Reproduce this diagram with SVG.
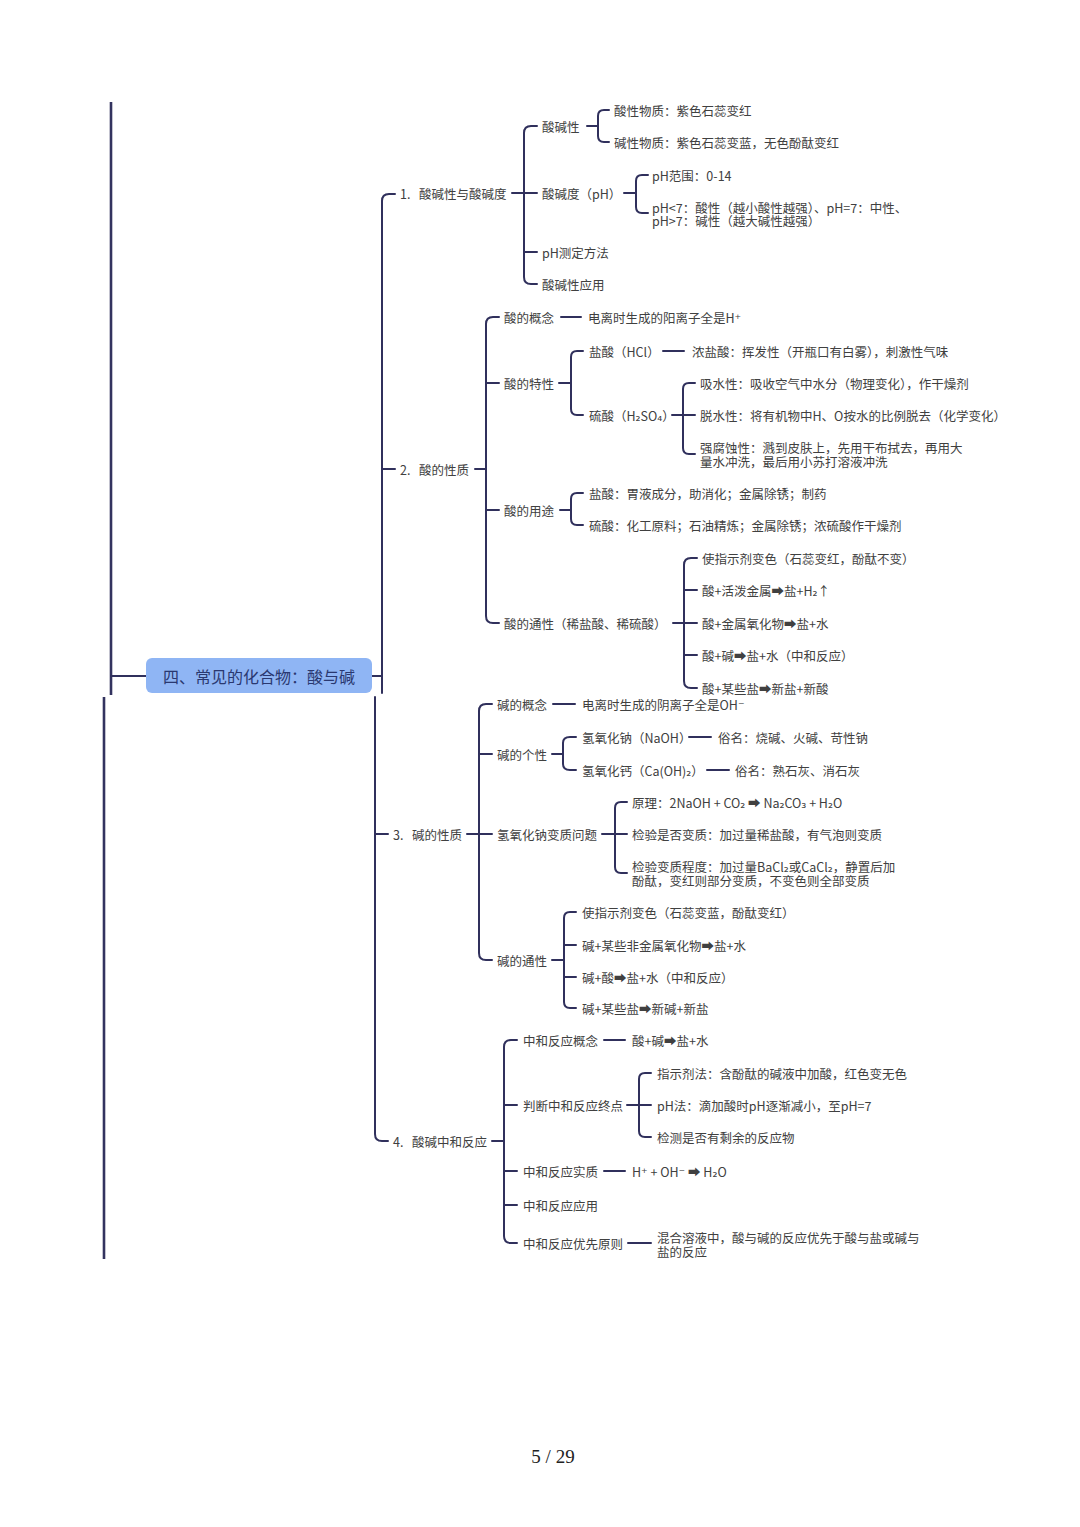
<svg xmlns="http://www.w3.org/2000/svg" width="1080" height="1527" viewBox="0 0 1080 1527">
<style>
.t{font-family:"Noto Sans CJK SC","DejaVu Sans",sans-serif;font-size:12.5px;fill:#404040;dominant-baseline:central}
.c{fill:none;stroke:#30305c;stroke-width:2;stroke-linecap:round;stroke-linejoin:round}
.trunk{fill:none;stroke:#33335f;stroke-width:2.6}
.rootbox{fill:#8fb5f4}
.rt{font-family:"Noto Sans CJK SC",sans-serif;font-size:16px;fill:#2a3870;dominant-baseline:central}
.pg{font-family:"Liberation Serif",serif;font-size:19px;fill:#222}
</style>
<rect width="1080" height="1527" fill="#ffffff"/>

<g id="connectors">
<path class="trunk" d="M111,102 L111,695"/>
<path class="trunk" d="M104,697 L104,1259"/>
<path class="c" d="M111,676 L146,676"/>
<path class="c" d="M372,676 L382,676"/>
<path class="c" d="M395,194 L389,194 Q382,194 382,201 L382,693"/>
<path class="c" d="M382,469 L395,469"/>
<path class="c" d="M375,697 L375,1134 Q375,1141 382,1141 L388,1141"/>
<path class="c" d="M375,834 L388,834"/>
<path class="c" d="M537,126 L531,126 Q524,126 524,133 L524,277 Q524,284 531,284 L537,284"/>
<path class="c" d="M512,193 L537,193 M524,252 L537,252"/>
<path class="c" d="M609,110 L604,110 Q598,110 598,116 L598,136 Q598,142 604,142 L609,142 M587,126 L598,126"/>
<path class="c" d="M648,175 L642,175 Q636,175 636,181 L636,207 Q636,213 642,213 L648,213 M624,193 L636,193"/>
<path class="c" d="M499,317 L493,317 Q486,317 486,324 L486,616 Q486,623 493,623 L499,623"/>
<path class="c" d="M475,469 L486,469 M486,383 L499,383 M486,510 L499,510"/>
<path class="c" d="M561,317 L581,317"/>
<path class="c" d="M583,351 L577,351 Q571,351 571,357 L571,409 Q571,415 577,415 L583,415 M559,383 L571,383"/>
<path class="c" d="M663,351 L684,351"/>
<path class="c" d="M695,383 L689,383 Q683,383 683,389 L683,448 Q683,454 689,454 L695,454 M672,415 L695,415"/>
<path class="c" d="M583,493 L577,493 Q571,493 571,499 L571,519 Q571,525 577,525 L583,525 M560,510 L571,510"/>
<path class="c" d="M697,558 L691,558 Q684,558 684,565 L684,681 Q684,688 691,688 L697,688 M673,623 L697,623 M684,590 L697,590 M684,655 L697,655"/>
<path class="c" d="M492,704 L486,704 Q479,704 479,711 L479,953 Q479,960 486,960 L492,960 M467,834 L492,834 M479,754 L492,754"/>
<path class="c" d="M553,704 L575,704"/>
<path class="c" d="M576,737 L570,737 Q563,737 563,743 L563,764 Q563,770 570,770 L576,770 M552,754 L563,754"/>
<path class="c" d="M689,737 L711,737 M707,770 L729,770"/>
<path class="c" d="M627,802 L621,802 Q615,802 615,808 L615,867 Q615,873 621,873 L627,873 M602,834 L627,834"/>
<path class="c" d="M576,912 L570,912 Q564,912 564,918 L564,1002 Q564,1008 570,1008 L576,1008 M552,960 L564,960 M564,945 L576,945 M564,977 L576,977"/>
<path class="c" d="M517,1040 L511,1040 Q504,1040 504,1047 L504,1236 Q504,1243 511,1243 L517,1243 M492,1141 L504,1141 M504,1105 L517,1105 M504,1171 L517,1171 M504,1205 L517,1205"/>
<path class="c" d="M604,1040 L625,1040"/>
<path class="c" d="M651,1073 L645,1073 Q639,1073 639,1079 L639,1131 Q639,1137 645,1137 L651,1137 M627,1105 L651,1105"/>
<path class="c" d="M604,1171 L625,1171"/>
<path class="c" d="M628,1243 L651,1243"/>
</g>

<g id="root">
<rect class="rootbox" x="146" y="658" width="226" height="35" rx="6"/>
<text class="rt" x="259" y="676" text-anchor="middle">四、常见的化合物：酸与碱</text>
</g>

<g id="n1">
<text class="t" x="400" y="193">1.<tspan x="419">酸碱性与酸碱度</tspan></text>
</g>
<g id="n1-1"><text class="t" x="542" y="126">酸碱性</text></g>
<g id="n1-1-1"><text class="t" x="614" y="110">酸性物质：紫色石蕊变红</text></g>
<g id="n1-1-2"><text class="t" x="614" y="142">碱性物质：紫色石蕊变蓝，无色酚酞变红</text></g>
<g id="n1-2"><text class="t" x="542" y="193">酸碱度（pH）</text></g>
<g id="n1-2-1"><text class="t" x="652" y="175">pH范围：0-14</text></g>
<g id="n1-2-2"><text class="t" x="652" y="207">pH&lt;7：酸性（越小酸性越强）、pH=7：中性、<tspan x="652" dy="13">pH&gt;7：碱性（越大碱性越强）</tspan></text></g>
<g id="n1-3"><text class="t" x="542" y="252">pH测定方法</text></g>
<g id="n1-4"><text class="t" x="542" y="284">酸碱性应用</text></g>

<g id="n2">
<text class="t" x="400" y="469">2.<tspan x="419">酸的性质</tspan></text>
</g>
<g id="n2-1"><text class="t" x="504" y="317">酸的概念</text></g>
<g id="n2-1-1"><text class="t" x="588" y="317">电离时生成的阳离子全是H⁺</text></g>
<g id="n2-2"><text class="t" x="504" y="383">酸的特性</text></g>
<g id="n2-2-1"><text class="t" x="589" y="351">盐酸（HCl）</text></g>
<g id="n2-2-1-1"><text class="t" x="692" y="351">浓盐酸：挥发性（开瓶口有白雾），刺激性气味</text></g>
<g id="n2-2-2"><text class="t" x="589" y="415">硫酸（H₂SO₄）</text></g>
<g id="n2-2-2-1"><text class="t" x="700" y="383">吸水性：吸收空气中水分（物理变化），作干燥剂</text></g>
<g id="n2-2-2-2"><text class="t" x="700" y="415">脱水性：将有机物中H、O按水的比例脱去（化学变化）</text></g>
<g id="n2-2-2-3"><text class="t" x="700" y="447">强腐蚀性：溅到皮肤上，先用干布拭去，再用大<tspan x="700" dy="14">量水冲洗，最后用小苏打溶液冲洗</tspan></text></g>
<g id="n2-3"><text class="t" x="504" y="510">酸的用途</text></g>
<g id="n2-3-1"><text class="t" x="589" y="493">盐酸：胃液成分，助消化；金属除锈；制药</text></g>
<g id="n2-3-2"><text class="t" x="589" y="525">硫酸：化工原料；石油精炼；金属除锈；浓硫酸作干燥剂</text></g>
<g id="n2-4"><text class="t" x="504" y="623">酸的通性（稀盐酸、稀硫酸）</text></g>
<g id="n2-4-1"><text class="t" x="702" y="558">使指示剂变色（石蕊变红，酚酞不变）</text></g>
<g id="n2-4-2"><text class="t" x="702" y="590">酸+活泼金属➡盐+H₂↑</text></g>
<g id="n2-4-3"><text class="t" x="702" y="623">酸+金属氧化物➡盐+水</text></g>
<g id="n2-4-4"><text class="t" x="702" y="655">酸+碱➡盐+水（中和反应）</text></g>
<g id="n2-4-5"><text class="t" x="702" y="688">酸+某些盐➡新盐+新酸</text></g>

<g id="n3">
<text class="t" x="393" y="834">3.<tspan x="412">碱的性质</tspan></text>
</g>
<g id="n3-1"><text class="t" x="497" y="704">碱的概念</text></g>
<g id="n3-1-1"><text class="t" x="582" y="704">电离时生成的阴离子全是OH⁻</text></g>
<g id="n3-2"><text class="t" x="497" y="754">碱的个性</text></g>
<g id="n3-2-1"><text class="t" x="582" y="737">氢氧化钠（NaOH）</text></g>
<g id="n3-2-1-1"><text class="t" x="718" y="737">俗名：烧碱、火碱、苛性钠</text></g>
<g id="n3-2-2"><text class="t" x="582" y="770">氢氧化钙（Ca(OH)₂）</text></g>
<g id="n3-2-2-1"><text class="t" x="735" y="770">俗名：熟石灰、消石灰</text></g>
<g id="n3-3"><text class="t" x="497" y="834">氢氧化钠变质问题</text></g>
<g id="n3-3-1"><text class="t" x="632" y="802">原理：2NaOH + CO₂ ➡ Na₂CO₃ + H₂O</text></g>
<g id="n3-3-2"><text class="t" x="632" y="834">检验是否变质：加过量稀盐酸，有气泡则变质</text></g>
<g id="n3-3-3"><text class="t" x="632" y="866">检验变质程度：加过量BaCl₂或CaCl₂，静置后加<tspan x="632" dy="14">酚酞，变红则部分变质，不变色则全部变质</tspan></text></g>
<g id="n3-4"><text class="t" x="497" y="960">碱的通性</text></g>
<g id="n3-4-1"><text class="t" x="582" y="912">使指示剂变色（石蕊变蓝，酚酞变红）</text></g>
<g id="n3-4-2"><text class="t" x="582" y="945">碱+某些非金属氧化物➡盐+水</text></g>
<g id="n3-4-3"><text class="t" x="582" y="977">碱+酸➡盐+水（中和反应）</text></g>
<g id="n3-4-4"><text class="t" x="582" y="1008">碱+某些盐➡新碱+新盐</text></g>

<g id="n4">
<text class="t" x="393" y="1141">4.<tspan x="412">酸碱中和反应</tspan></text>
</g>
<g id="n4-1"><text class="t" x="523" y="1040">中和反应概念</text></g>
<g id="n4-1-1"><text class="t" x="632" y="1040">酸+碱➡盐+水</text></g>
<g id="n4-2"><text class="t" x="523" y="1105">判断中和反应终点</text></g>
<g id="n4-2-1"><text class="t" x="657" y="1073">指示剂法：含酚酞的碱液中加酸，红色变无色</text></g>
<g id="n4-2-2"><text class="t" x="657" y="1105">pH法：滴加酸时pH逐渐减小，至pH=7</text></g>
<g id="n4-2-3"><text class="t" x="657" y="1137">检测是否有剩余的反应物</text></g>
<g id="n4-3"><text class="t" x="523" y="1171">中和反应实质</text></g>
<g id="n4-3-1"><text class="t" x="632" y="1171">H⁺ + OH⁻ ➡ H₂O</text></g>
<g id="n4-4"><text class="t" x="523" y="1205">中和反应应用</text></g>
<g id="n4-5"><text class="t" x="523" y="1243">中和反应优先原则</text></g>
<g id="n4-5-1"><text class="t" x="657" y="1237">混合溶液中，酸与碱的反应优先于酸与盐或碱与<tspan x="657" dy="14">盐的反应</tspan></text></g>

<text class="pg" x="553" y="1463" text-anchor="middle">5 / 29</text>
</svg>
